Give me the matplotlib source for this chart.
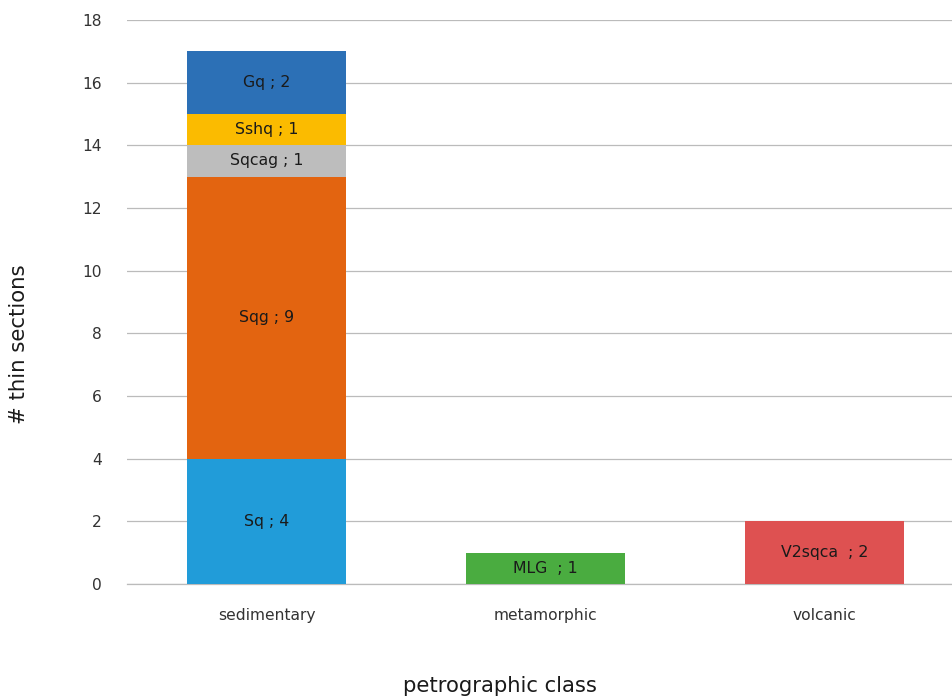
import matplotlib.pyplot as plt

plt.rcParams['font.family'] = ['Verdana', 'DejaVu Sans']

categories = ['sedimentary', 'metamorphic', 'volcanic']

# stacked segments: (label, category index, count, colour)
segments = [
    ('Sq', 0, 4, '#219CD9'),
    ('Sqg', 0, 9, '#E36410'),
    ('Sqcag', 0, 1, '#BDBDBD'),
    ('Sshq', 0, 1, '#FBBB00'),
    ('Gq', 0, 2, '#2C70B6'),
    ('MLG ', 1, 1, '#4AAC40'),
    ('V2sqca ', 2, 2, '#DE5151'),
]

fig = plt.figure(figsize=(9.52, 6.98), dpi=100)
# axes spans three equal category slots; the last slot runs past the right edge
ax = fig.add_axes([127 / 952, 1 - 584 / 698, 837 / 952, 564 / 698])

bottoms = [0] * len(categories)
for label, ci, val, col in segments:
    ax.bar(ci, val, bottom=bottoms[ci], width=0.573, color=col, zorder=3)
    ax.text(ci, bottoms[ci] + val / 2, f'{label} ; {val}', ha='center', va='center',
            fontsize=11.3, color='#1a1a1a', zorder=4)
    bottoms[ci] += val

ax.set_xlim(-0.5, 2.5)
ax.set_ylim(0, 18)
ax.set_yticks(range(0, 19, 2))
ax.set_xticks(range(len(categories)))
ax.set_xticklabels(categories)
ax.tick_params(axis='both', length=0, labelsize=11.2, colors='#333333')
ax.tick_params(axis='x', pad=17)
ax.tick_params(axis='y', pad=18)
ax.yaxis.grid(True, color='#bbbbbb', linewidth=0.9, zorder=0)
for s in ['top', 'right', 'left']:
    ax.spines[s].set_visible(False)
ax.spines['bottom'].set_color('#bbbbbb')
ax.spines['bottom'].set_linewidth(0.9)

fig.text(19 / 952, 1 - 344 / 698, '# thin sections', rotation=90, ha='center', va='center',
         fontsize=15.3, color='#1a1a1a')
fig.text(500 / 952, 1 - 686 / 698, 'petrographic class', ha='center', va='center',
         fontsize=15.2, color='#1a1a1a')

fig.savefig('out.png', dpi=100)
